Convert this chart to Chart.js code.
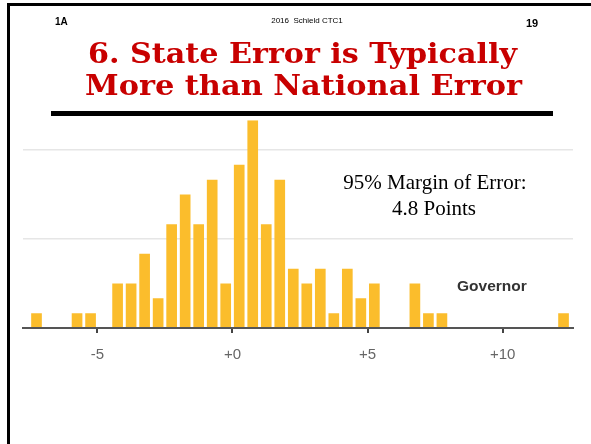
<!DOCTYPE html>
<html><head><meta charset="utf-8">
<script src="https://cdn.jsdelivr.net/npm/chart.js@4/dist/chart.umd.min.js"></script>
<style>
html,body{margin:0;padding:0;background:#fff;}
#page{position:relative;width:591px;height:444px;overflow:hidden;background:#fff;}
.t{position:absolute;white-space:pre;line-height:1;transform-origin:0 0;}
.ttl{font:bold 27px 'DejaVu Serif',serif;color:#c80000;}
#frame{position:absolute;left:7px;top:3px;width:600px;height:460px;border-left:3px solid #000;border-top:3px solid #000;}
#rule{position:absolute;left:51px;top:111px;width:502px;height:5px;background:#000;}
#cw{position:absolute;left:0;top:0;width:591px;height:444px;}
</style></head>
<body><div id="page">
<div id="frame"></div>
<div id="cw"><canvas id="c" width="591" height="444"></canvas></div>
<div id="rule"></div>
<div class="t" id="t1A" style="font:bold 10px 'Liberation Sans',Arial,sans-serif;color:#000">1A</div>
<div class="t" id="tsrc" style="font:8px 'Liberation Sans',Arial,sans-serif;color:#000">2016  Schield CTC1</div>
<div class="t" id="t19" style="font:bold 11px 'Liberation Sans',Arial,sans-serif;color:#000">19</div>
<div class="t ttl" id="title1">6. State Error is Typically</div>
<div class="t ttl" id="title2">More than National Error</div>
<div class="t" id="ann1" style="font:21px 'Liberation Serif','Times New Roman',serif;color:#000">95% Margin of Error:</div>
<div class="t" id="ann2" style="font:21px 'Liberation Serif','Times New Roman',serif;color:#000">4.8 Points</div>
<div class="t" id="gov" style="font:bold 15.5px 'Liberation Sans',Arial,sans-serif;color:#333">Governor</div>
</div>
<script>
// ---- data ----
const binCenters = [-7.25, -5.75, -5.25, -4.25, -3.75, -3.25, -2.75, -2.25, -1.75, -1.25, -0.75, -0.25,
                    0.25, 0.75, 1.25, 1.75, 2.25, 2.75, 3.25, 3.75, 4.25, 4.75, 5.25, 6.75, 7.25, 7.75, 12.25];
const counts     = [1, 1, 1, 3, 3, 5, 2, 7, 9, 7, 10, 3,
                    11, 14, 7, 10, 4, 3, 4, 1, 4, 2, 3, 3, 1, 1, 1];
const xTickValues = [-5, 0, 5, 10];
const yGridValues = [6, 12];

// ---- text placement by baseline ----
function place(id, x, baseline, align, targetWidth) {
  const el = document.getElementById(id);
  const probe = document.createElement('span');
  probe.style.cssText = 'display:inline-block;width:0;height:0;vertical-align:baseline;';
  el.appendChild(probe);
  const base = probe.offsetTop;
  el.removeChild(probe);
  let w = el.getBoundingClientRect().width;
  let sx = 1;
  if (targetWidth) { sx = targetWidth / w; w = targetWidth; }
  let left = x;
  if (align === 'center') left = x - w / 2;
  else if (align === 'right') left = x - w;
  el.style.left = left + 'px';
  el.style.top = (baseline - base) + 'px';
  if (sx !== 1) el.style.transform = 'scaleX(' + sx + ')';
}
place('t1A', 55, 25, 'left');
place('tsrc', 307, 23, 'center');
place('t19', 526, 27, 'left');
place('title1', 302.5, 63, 'center', 429);
place('title2', 303.5, 95, 'center', 437);
place('ann1', 435, 189, 'center');
place('ann2', 434, 215, 'center');
place('gov', 457, 291, 'left');

// ---- chart ----
new Chart(document.getElementById('c'), {
  type: 'bar',
  data: {
    datasets: [{
      data: binCenters.map((x, i) => ({ x: x, y: counts[i] })),
      backgroundColor: '#fbbd2c',
      borderWidth: 0,
      barPercentage: 0.79,
      categoryPercentage: 1.0
    }]
  },
  options: {
    responsive: false,
    animation: false,
    layout: { padding: { left: 23, right: 18, top: 120.3, bottom: 67 } },
    plugins: { legend: { display: false }, tooltip: { enabled: false } },
    scales: {
      x: {
        type: 'linear',
        min: -7.75,
        max: 12.6,
        offset: false,
        grid: { display: true, offset: false, drawOnChartArea: false, drawTicks: true, tickLength: 5, color: '#444', lineWidth: 2 },
        border: { display: true, color: '#555', width: 2, z: 1 },
        ticks: {
          padding: 13,
          color: '#666',
          font: { family: "'Liberation Sans', Arial, sans-serif", size: 15 },
          callback: v => (v > 0 ? '+' + v : (v === 0 ? '+0' : String(v)))
        },
        afterBuildTicks: s => { s.ticks = xTickValues.map(v => ({ value: v })); }
      },
      y: {
        min: 0,
        max: 14,
        grid: { color: '#e6e6e6', lineWidth: 1.5, drawTicks: false },
        border: { display: false },
        ticks: { display: false },
        afterBuildTicks: s => { s.ticks = yGridValues.map(v => ({ value: v })); }
      }
    }
  }
});
</script>
</body></html>
